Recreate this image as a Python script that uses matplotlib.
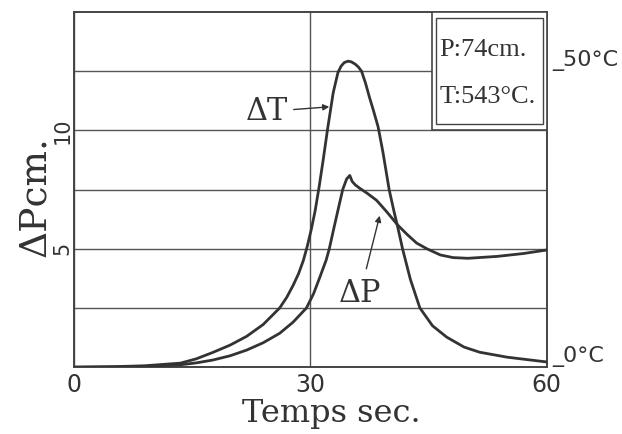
import numpy as np
import matplotlib.pyplot as plt
from matplotlib.patches import Rectangle

# Values (time in s, deflection in cm)
t_dT = [0, 5, 9, 13.5, 15.5, 17.6, 19.8, 21.9, 24, 26.1, 27.0, 27.8, 28.5,
        29.1, 29.6, 30.1, 30.6, 31.1, 31.6, 32.2, 32.9, 33.5, 33.9, 34.3,
        34.8, 35.2, 35.7, 36.1, 36.5, 37.0, 37.5, 38.0, 38.6, 39.2, 39.6,
        40.0, 40.6, 41.1, 41.7, 42.7, 43.9, 45.5, 47.3, 49.5, 51.5, 55, 60]
dT = [0, 0.02, 0.06, 0.17, 0.35, 0.62, 0.93, 1.3, 1.8, 2.5, 2.95, 3.45, 3.95,
      4.5, 5.1, 5.8, 6.6, 7.6, 8.7, 10.1, 11.6, 12.45, 12.72, 12.87,
      12.93, 12.9, 12.8, 12.68, 12.5, 12.0, 11.4, 10.85, 10.15, 9.1, 8.3,
      7.5, 6.6, 5.9, 5.0, 3.7, 2.5, 1.75, 1.27, 0.85, 0.63, 0.42, 0.22]

t_dP = [0, 5, 9, 13.5, 15.5, 17.6, 19.8, 21.9, 24, 26.1, 27.8, 29.5, 30.4,
        31.2, 32.0, 32.4, 33.0, 33.5, 34.1, 34.6, 35.0, 35.3, 35.7, 36.3,
        37.2, 38.4, 39.6, 41.1, 42.3, 43.5, 44.8, 46.5, 48.1, 50, 53.7, 57, 60]
dP = [0, 0.01, 0.03, 0.1, 0.18, 0.3, 0.48, 0.72, 1.03, 1.43, 1.9, 2.5, 3.1,
      3.8, 4.52, 5.0, 5.9, 6.63, 7.5, 7.95, 8.1, 7.85, 7.7, 7.55,
      7.35, 7.05, 6.6, 6.0, 5.6, 5.24, 5.0, 4.74, 4.63, 4.6, 4.68, 4.8, 4.95]

x_ticks = [0, 30, 60]
x_labels = ['0', '30', '60']
y_ticks = [0, 2.5, 5, 7.5, 10, 12.5]
y_labels = ['', '', '5', '', '10', '']
temp_ticks = [0, 50]
temp_labels = ['_0°C', '_50°C']

ink = '#333333'

fig = plt.figure(figsize=(6.22, 4.34), dpi=100)
ax = fig.add_axes([0.119, 0.154, 0.760, 0.818])

ax.plot(t_dT, dT, color=ink, lw=2.0, solid_capstyle='round',
        solid_joinstyle='round', zorder=3)
ax.plot(t_dP, dP, color=ink, lw=2.0, solid_capstyle='round',
        solid_joinstyle='round', zorder=3)

ax.set_xlim(0, 60)
ax.set_ylim(0, 15)
ax.set_xticks(x_ticks)
ax.set_xticklabels(x_labels, fontsize=17)
ax.set_yticks(y_ticks)
ax.set_yticklabels(y_labels, fontsize=15, rotation=90, va='center')
ax.tick_params(length=0, colors=ink)
ax.tick_params(axis='x', pad=4)
ax.tick_params(axis='y', pad=1)
ax.grid(True, color='#555555', lw=1.0)
ax.set_axisbelow(True)
for s in ax.spines.values():
    s.set_color('#444444')
    s.set_linewidth(1.4)

ax.set_xlabel('Temps sec.', fontsize=23, family='DejaVu Serif', color=ink,
              labelpad=1, x=0.545)
ax.set_ylabel('ΔPcm.', fontsize=27, family='DejaVu Serif', color=ink,
              labelpad=0, y=0.48)

# inset box with run conditions (double border)
ax.add_patch(Rectangle((45.5, 10), 14.5, 5, facecolor='white',
                       edgecolor='#444444', lw=1.2, zorder=4))
ax.add_patch(Rectangle((46.0, 10.27), 13.5, 4.47, facecolor='white',
                       edgecolor='#444444', lw=1.0, zorder=4))
ax.text(46.4, 13.4, 'P:74cm.', fontsize=19, family='Liberation Serif',
        color=ink, va='center', zorder=5)
ax.text(46.4, 11.4, 'T:543°C.', fontsize=19, family='Liberation Serif',
        color=ink, va='center', zorder=5)

# curve labels
ax.annotate('ΔT', xy=(32.4, 11.0), xytext=(24.5, 10.8), fontsize=22,
            family='DejaVu Serif', color=ink, ha='center', va='center',
            arrowprops=dict(arrowstyle='-|>', color=ink, lw=1.0,
                            mutation_scale=9, shrinkA=2, shrinkB=0))
ax.annotate('ΔP', xy=(38.8, 6.4), xytext=(36.3, 3.1), fontsize=22,
            family='DejaVu Serif', color=ink, ha='center', va='center',
            arrowprops=dict(arrowstyle='-|>', color=ink, lw=1.0,
                            mutation_scale=9, shrinkA=5, shrinkB=0))

# temperature scale on the right
ax2 = ax.twinx()
ax2.set_ylim(0, 60)
ax2.set_yticks(temp_ticks)
ax2.set_yticklabels(temp_labels, fontsize=16)
for lab in ax2.get_yticklabels():
    lab.set_verticalalignment('bottom')
ax2.tick_params(length=0, pad=4, colors=ink)
for s in ax2.spines.values():
    s.set_visible(False)

fig.savefig('out.png', dpi=100, facecolor='white')
